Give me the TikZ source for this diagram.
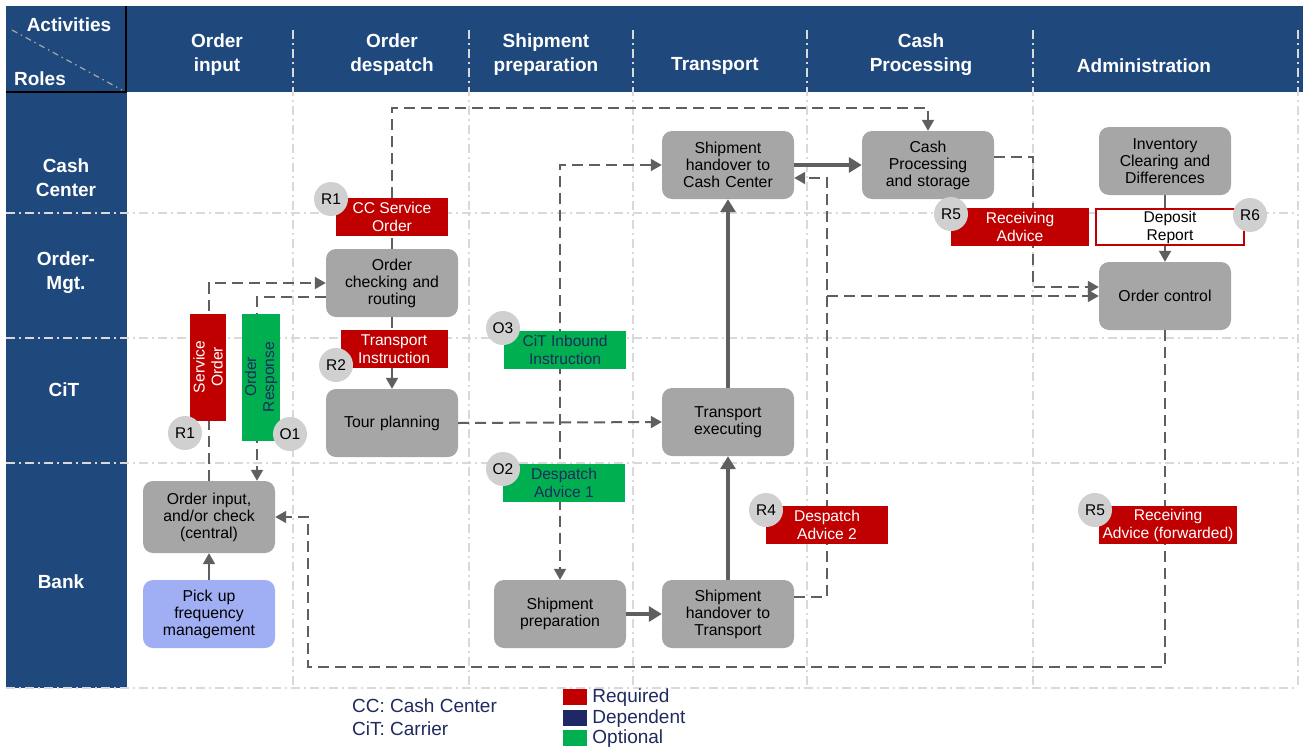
\documentclass[tikz,border=0pt]{standalone}
\usepackage{fontspec}
\setmainfont{Liberation Sans}
\usepackage{xcolor}
\usepackage{tikz}
\usetikzlibrary{arrows.meta,positioning}

\definecolor{hdrblue}{HTML}{1F497D}
\definecolor{reqred}{HTML}{C00000}
\definecolor{optgreen}{HTML}{00B050}
\definecolor{depnavy}{HTML}{1F2866}
\definecolor{navytext}{HTML}{1F2A5E}
\definecolor{boxgray}{HTML}{A6A6A6}
\definecolor{badgegray}{HTML}{D0D0D0}
\definecolor{pickblue}{HTML}{A0AEF4}
\definecolor{linegray}{HTML}{5F5F5F}
\definecolor{gridgray}{HTML}{D9D9D9}

\tikzset{
  task/.style={fill=boxgray, rounded corners=10pt, minimum width=132pt, minimum height=68pt,
    text width=124pt, inner sep=4pt, align=center, font=\fontsize{15.8}{17}\selectfont},
  reqmsg/.style={fill=reqred, text=white, minimum height=38pt, inner sep=0pt, align=center,
    font=\fontsize{15.6}{18}\selectfont},
  optmsg/.style={reqmsg, fill=optgreen, text=navytext},
  badge/.style={circle, fill=badgegray, minimum size=34pt, inner sep=0pt, font=\fontsize{15.5}{17}\selectfont},
  flow/.style={draw=linegray, line width=2pt, dash pattern=on 11pt off 6pt, -{Triangle[length=11pt,width=12pt]}},
  thinflow/.style={draw=linegray, line width=2pt, -{Triangle[length=11pt,width=12pt]}},
  mainflow/.style={draw=linegray, line width=4pt, -{Triangle[length=13pt,width=15pt]}},
  lanesep/.style={draw=gridgray, line width=1.5pt, dash pattern=on 9pt off 4pt on 2pt off 4pt},
  hdr/.style={text=white, font=\fontsize{19}{24}\selectfont\bfseries, align=center},
  legtext/.style={text=navytext, font=\fontsize{19}{23}\selectfont, inner sep=0pt}
}

\begin{document}
\begin{tikzpicture}[x=1pt,y=-1pt]
\useasboundingbox (0,0) rectangle (1303,747);

% Header and role column
\fill[hdrblue] (6,6) rectangle (1303,92);
\fill[hdrblue] (6,92) rectangle (127,688);

% Swim lanes
\foreach \y in {213,338,463,688}
    \draw[lanesep] (6,\y) -- (1298,\y);
\foreach \x in {293,469,633,807,1033,1298}
    \draw[lanesep] (\x,30) -- (\x,688);

% Corner cell
\draw[line width=2pt] (126,6) -- (126,92) -- (6,92);
\draw[gray!70, line width=1.2pt, dash pattern=on 6pt off 4pt on 1.5pt off 4pt] (12,30) -- (122,90);
\node[hdr] (cornerAct) at (69,25) {Activities};
\node[hdr] (cornerRol) at (40,79) {Roles};

% Activities
\node[hdr] (hdrIn) at (217,55) {Order\\input};
\node[hdr] (hdrDes) at (392,55) {Order\\despatch};
\node[hdr] (hdrShp) at (546,55) {Shipment\\preparation};
\node[hdr] (hdrTr) at (715,66) {Transport};
\node[hdr] (hdrCash) at (921,55) {Cash\\Processing};
\node[hdr] (hdrAdm) at (1144,66) {Administration};

% Roles
\node[hdr] (roleCC) at (66,178) {Cash\\Center};
\node[hdr] (roleOM) at (66,273) {Order-\\Mgt.};
\node[hdr] (roleCiT) at (64,390) {CiT};
\node[hdr] (roleBank) at (61,582) {Bank};

% Process steps
\node[task] (ochk) at (392,283) {Order\\checking and\\routing};
\node[task] (tour) at (392,423) {Tour planning};
\node[task, minimum height=72pt] (oinput) at (209,517) {Order input,\\and/or check\\(central)};
\node[task, fill=pickblue] (pickup) at (209,614) {Pick up\\frequency\\management};
\node[task] (hoCC) at (728,165) {Shipment\\handover to\\Cash Center};
\node[task] (cashP) at (928,165) {Cash\\Processing\\and storage};
\node[task] (inv) at (1165,161) {Inventory\\Clearing and\\Differences};
\node[task] (octrl) at (1165,296) {Order control};
\node[task] (trex) at (728,422) {Transport\\executing};
\node[task] (shprep) at (560,614) {Shipment\\preparation};
\node[task] (hoTr) at (728,614) {Shipment\\handover to\\Transport};

% Turning points
\coordinate (topline) at (0,108);
\coordinate (botline) at (0,667);
\coordinate (retx) at (308,0);
\coordinate (da2split) at (827,296);
\coordinate (cpturn) at (1033,287);

% Message flows
\draw[flow] (oinput.north) |- (ochk.west);
\draw[flow] ([yshift=-14pt]ochk.west) -| ([xshift=48pt]oinput.north);
\draw[flow] (ochk.north) -- (ochk.north |- topline) -| (cashP.north);
\draw[flow] (ochk.south) -- (tour.north);
\draw[flow] (tour.east) -- (trex.west);
\draw[flow, {Triangle[length=11pt,width=12pt]}-{Triangle[length=11pt,width=12pt]}] (hoCC.west) -| (shprep.north);
\draw[flow] ([yshift=17pt]hoTr.east) -| ([xshift=33pt,yshift=-13pt]hoCC.east) -- ([yshift=-13pt]hoCC.east);
\draw[flow] (da2split) -- (octrl.west);
\draw[flow] ([yshift=8pt]cashP.east) -| (cpturn) -- ([yshift=9pt]octrl.west);
\draw[flow] (octrl.south) -- (octrl.south |- botline) -| (retx |- oinput.east) -- (oinput.east);
\draw[thinflow] (inv.south) -- (octrl.north);
\draw[thinflow] (pickup.north) -- (oinput.south);

% Goods flow
\draw[mainflow] (shprep.east) -- (hoTr.west);
\draw[mainflow] (hoTr.north) -- (trex.south);
\draw[mainflow] (trex.north) -- (hoCC.south);
\draw[mainflow] (hoCC.east) -- (cashP.west);

% Messages
\node[reqmsg, minimum width=112pt] (ccso) at (392,217) {CC Service\\Order};
\node[reqmsg, minimum width=107pt] (trins) at (394,349) {Transport\\Instruction};
\node[reqmsg, rotate=90, minimum width=107pt, minimum height=36pt] (sorder) at (208,367) {Service\\Order};
\node[optmsg, rotate=90, minimum width=127pt] (oresp) at (261,377) {Order\\Response};
\node[optmsg, minimum width=122pt] (citin) at (565,350) {CiT Inbound\\Instruction};
\node[optmsg, minimum width=122pt] (desp1) at (564,483) {Despatch\\Advice 1};
\node[reqmsg, minimum width=122pt] (desp2) at (827,525) {Despatch\\Advice 2};
\node[reqmsg, minimum width=138pt] (recadv) at (1020,227) {Receiving\\Advice};
\node[reqmsg, fill=white, draw=reqred, line width=2pt, text=black, minimum width=148pt, minimum height=36pt] (deprep) at (1170,227) {Deposit\\Report};
\node[reqmsg, minimum width=138pt] (recfwd) at (1168,525) {Receiving\\Advice (forwarded)};

% Message codes
\node[badge] (bR1top) at (331,199) {R1};
\node[badge] (bR2) at (336,365) {R2};
\node[badge] (bR1low) at (185,433) {R1};
\node[badge] (bO1) at (290,434) {O1};
\node[badge] (bO3) at (503,328) {O3};
\node[badge] (bO2) at (503,469) {O2};
\node[badge] (bR4) at (766,510) {R4};
\node[badge] (bR5top) at (951,214) {R5};
\node[badge] (bR6) at (1250,215) {R6};
\node[badge] (bR5low) at (1095,510) {R5};

% Legend
\node[legtext, anchor=west] (abbrCC) at (352,706) {CC: Cash Center};
\node[legtext, anchor=west] (abbrCiT) at (352,729) {CiT: Carrier};
\foreach \c/\t/\y in {reqred/Required/697,depnavy/Dependent/718,optgreen/Optional/738} {
    \node[fill=\c, minimum width=24pt, minimum height=16pt, inner sep=0pt] (key\t) at (575,\y) {};
    \node[legtext, right=5pt of key\t, yshift=-1pt] (keytxt\t) {\t};
}
\end{tikzpicture}
\end{document}
